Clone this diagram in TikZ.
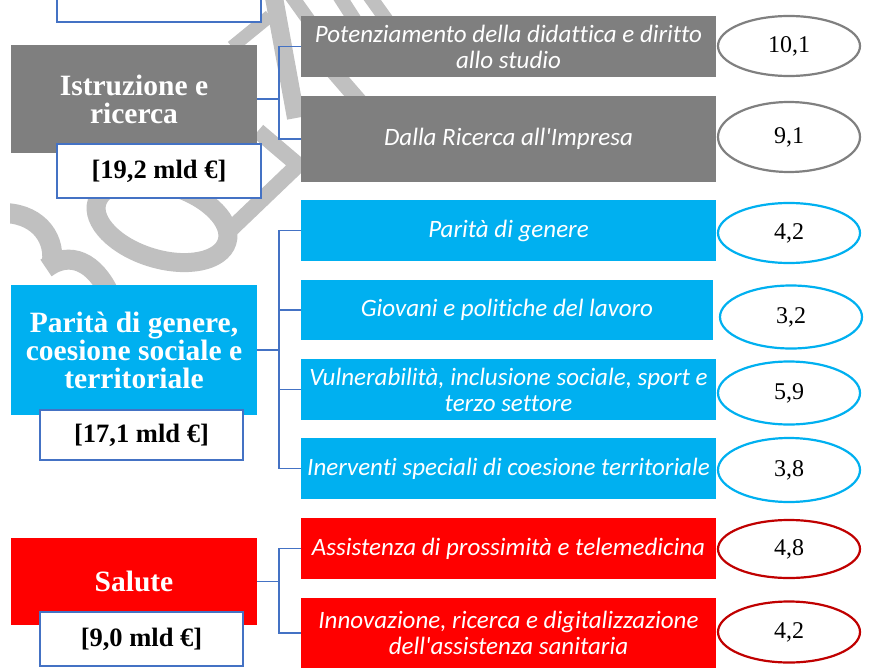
\documentclass[tikz,border=0pt]{standalone}
\usepackage{fontspec}
\setmainfont{Liberation Serif}
\newfontfamily\carlito{Carlito}[Ligatures={NoCommon}]
\usetikzlibrary{shapes.geometric}
\definecolor{gboxc}{HTML}{7F7F7F}
\definecolor{bboxc}{HTML}{00B0F0}
\definecolor{rboxc}{HTML}{FF0000}
\definecolor{lnk}{HTML}{4472C4}
\definecolor{gellc}{HTML}{808080}
\definecolor{rellc}{HTML}{C00000}
\definecolor{wmc}{HTML}{C0C0C0}
\tikzset{
  mainbox/.style={rectangle, inner sep=0pt, outer sep=0pt, anchor=north west, text=white,
    font=\fontsize{29.5}{28}\selectfont\bfseries, align=center},
  valbox/.style={rectangle, draw=lnk, line width=1.5pt, fill=white, anchor=north west,
    inner sep=0pt, outer sep=0pt, font=\fontsize{26.5}{28}\selectfont\bfseries},
  subbox/.style={rectangle, anchor=north west, inner sep=0pt, outer sep=0pt, text=white,
    font=\carlito\itshape\fontsize{25}{26}\selectfont, align=center},
  numell/.style={ellipse, draw, line width=2.2pt, fill=white, inner sep=0pt, outer sep=0pt,
    minimum width=142pt, font=\fontsize{24}{26}\selectfont},
  conn/.style={draw=lnk, line width=1.5pt},
  wmstroke/.style={draw=wmc, line width=18pt, line join=miter},
}
\begin{document}
\begin{tikzpicture}[x=1pt, y=-1pt]
\useasboundingbox (0,0) rectangle (874,671);
\clip (0,0) rectangle (874,671);
\fill[white] (0,0) rectangle (874,671);
% watermark shapes
\begin{scope}
\clip (10,0) rectangle (874,671);
\draw[wmstroke, line width=19pt] (162,222) ellipse [x radius=68, y radius=37, rotate=-17];
\draw[wmstroke, line width=20pt] (0,213) .. controls (35,212) and (55,235) .. (52,262);
\draw[wmstroke, line width=20pt] (46,268) .. controls (70,250) and (95,262) .. (110,295);
\draw[wmstroke] (273,-8) -- (296,118);
\draw[wmstroke, line width=13pt] (270,16) -- (232,47);
\draw[wmstroke, line width=16pt] (258,131) -- (298,165) -- (228,232);
\draw[wmstroke, line width=14pt] (290,-6) -- (310,22);
\draw[wmstroke, line width=14pt] (338,-6) -- (356,22);
\draw[wmstroke, line width=14pt] (368,-6) -- (388,22);
\draw[wmstroke, line width=16pt] (334,72) -- (360,102);
\end{scope}
% partial box at top
\node[valbox, minimum width=204pt, minimum height=40pt] (v0) at (57,-18) {};
% Istruzione e ricerca
\node[mainbox, fill=gboxc, minimum width=246pt, minimum height=108pt] (m1) at (11,45) {Istruzione e\\ricerca};
\node[valbox, minimum width=204pt, minimum height=54pt] (v1) at (57,144) {[19,2 mld €]};
\node[subbox, fill=gboxc, minimum width=415pt, minimum height=61pt] (s11) at (301,16) {Potenziamento della didattica e diritto\\allo studio};
\node[subbox, fill=gboxc, minimum width=415pt, minimum height=86pt] (s12) at (301,96) {Dalla Ricerca all'Impresa};
\node[numell, draw=gellc, minimum height=60pt] (e11) at (789,46) {10,1};
\node[numell, draw=gellc, minimum height=70pt] (e12) at (789,137) {9,1};
% Parita di genere
\node[mainbox, fill=bboxc, minimum width=246pt, minimum height=130pt] (m2) at (11,285) {Parità di genere,\\coesione sociale e\\territoriale};
\node[valbox, minimum width=203pt, minimum height=50pt] (v2) at (40,410) {[17,1 mld €]};
\node[subbox, fill=bboxc, minimum width=415pt, minimum height=61pt] (s21) at (301,200) {Parità di genere};
\node[subbox, fill=bboxc, minimum width=412pt, minimum height=60pt] (s22) at (301,280) {Giovani e politiche del lavoro};
\node[subbox, fill=bboxc, minimum width=415pt, minimum height=61pt] (s23) at (301,359) {Vulnerabilità, inclusione sociale, sport e\\terzo settore};
\node[subbox, fill=bboxc, minimum width=415pt, minimum height=61pt] (s24) at (301,438) {Inerventi speciali di coesione territoriale};
\node[numell, draw=bboxc, minimum height=60pt] (e21) at (789,233) {4,2};
\node[numell, draw=bboxc, minimum height=63pt] (e22) at (791,317) {3,2};
\node[numell, draw=bboxc, minimum height=63pt] (e23) at (789,393) {5,9};
\node[numell, draw=bboxc, minimum height=64pt] (e24) at (789,470) {3,8};
% Salute
\node[mainbox, fill=rboxc, minimum width=246pt, minimum height=87pt] (m3) at (11,538) {Salute};
\node[valbox, minimum width=203pt, minimum height=54pt] (v3) at (40,612) {[9,0 mld €]};
\node[subbox, fill=rboxc, minimum width=415pt, minimum height=61pt] (s31) at (301,518) {Assistenza di prossimità e telemedicina};
\node[subbox, fill=rboxc, minimum width=415pt, minimum height=70pt] (s32) at (301,598) {Innovazione, ricerca e digitalizzazione\\dell'assistenza sanitaria};
\node[numell, draw=rellc, minimum height=58pt] (e31) at (789,549) {4,8};
\node[numell, draw=rellc, minimum height=61pt] (e32) at (789,632) {4,2};
% connectors
\draw[conn] (m1.east) -- ++(22,0);
\draw[conn] (s11.west) -- ++(-22,0) |- (s12.west);
\draw[conn] (m2.east) -- ++(22,0);
\draw[conn] (s21.west) -- ++(-22,0) |- (s24.west);
\draw[conn] (s22.west) -- ++(-22,0);
\draw[conn] (s23.west) -- ++(-22,0);
\draw[conn] (m3.east) -- ++(22,0);
\draw[conn] (s31.west) -- ++(-22,0) |- (s32.west);
\end{tikzpicture}
\end{document}
